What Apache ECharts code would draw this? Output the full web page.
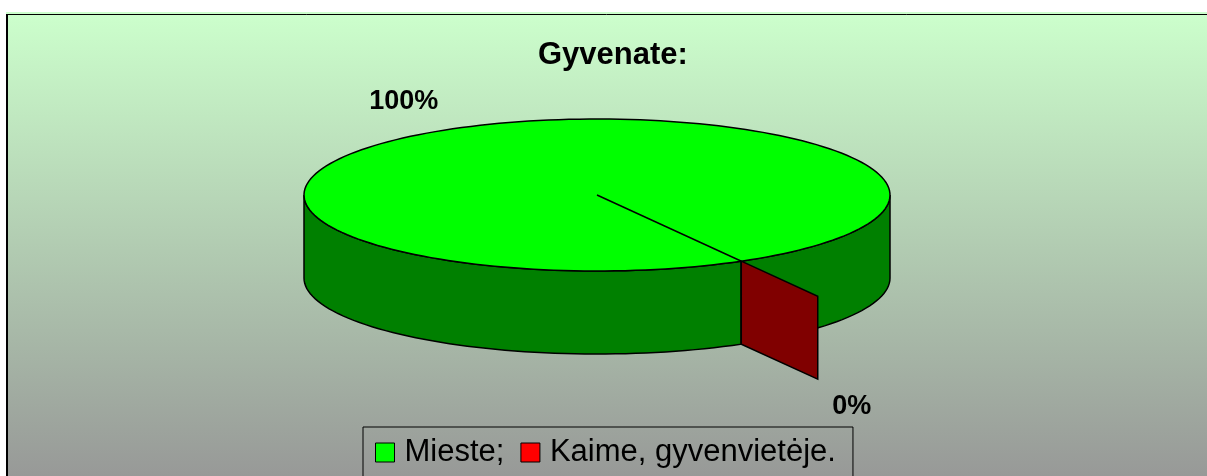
<!DOCTYPE html>
<html>
<head>
<meta charset="utf-8">
<script src="https://cdn.jsdelivr.net/npm/echarts@6/dist/echarts.min.js"></script>
<style>
  html, body { margin: 0; padding: 0; background: #fff; }
  #main { width: 1207px; height: 476px; }
</style>
</head>
<body>
<div id="main"></div>
<script>
// data
var categories = ['Mieste;', 'Kaime, gyvenvietėje.'];
var values = [100, 0];
var topColors = ['#00FF00', '#FF0000'];
var sideColors = ['#008000', '#800000'];
var explode = [0, 0.53];

// 3d pie layout (px)
var CX = 597, CY = 195, RX = 293, RY = 76, DEPTH = 83, START = 60.5;
var FONT = '"Liberation Sans", Arial, sans-serif';

var total = 0;
for (var i = 0; i < values.length; i++) total += values[i];

function rad(d) { return d * Math.PI / 180; }
function pt(a, t, ox, oy, dz) {
    return [CX + ox + t * RX * Math.cos(rad(a)), CY + oy + t * RY * Math.sin(rad(a)) + dz];
}
function arc(a0, a1, ox, oy, dz) {
    var pts = [], n = Math.max(2, Math.ceil(Math.abs(a1 - a0) / 2));
    for (var i = 0; i <= n; i++) pts.push(pt(a0 + (a1 - a0) * i / n, 1, ox, oy, dz));
    return pts;
}

function renderSlice(idx) {
    return function (params, api) {
        var before = 0;
        for (var j = 0; j < idx; j++) before += values[j];
        var a0 = START + before / total * 360;
        var a1 = a0 + values[idx] / total * 360;
        var mid = (a0 + a1) / 2;
        var e = explode[idx];
        var ox = e * RX * Math.cos(rad(mid)), oy = e * RY * Math.sin(rad(mid));
        var edge = { stroke: '#000', lineWidth: 1.5 };
        var children = [];

        // side wall, only the front half is seen
        for (var k = -1; k <= 2; k++) {
            var f0 = Math.max(a0, k * 360), f1 = Math.min(a1, k * 360 + 180);
            if (f1 > f0) {
                var top = arc(f0, f1, ox, oy, 0);
                var bot = arc(f0, f1, ox, oy, DEPTH).reverse();
                children.push({
                    type: 'polygon',
                    shape: { points: top.concat(bot) },
                    style: { fill: sideColors[idx], stroke: edge.stroke, lineWidth: edge.lineWidth }
                });
            }
        }

        if (a1 - a0 > 0.01) {
            // top face
            children.push({
                type: 'polygon',
                shape: { points: [[CX + ox, CY + oy]].concat(arc(a0, a1, ox, oy, 0)) },
                style: { fill: topColors[idx], stroke: edge.stroke, lineWidth: edge.lineWidth }
            });
        } else {
            // empty slice: only its cut face sticks out of the cylinder
            var t1 = Math.max(e, 1), t2 = 1 + e;
            var p1 = pt(a0, t1, 0, 0, 0), p2 = pt(a0, t2, 0, 0, 0);
            children.push({
                type: 'polygon',
                shape: { points: [p1, p2, [p2[0], p2[1] + DEPTH], [p1[0], p1[1] + DEPTH]] },
                style: { fill: sideColors[idx], stroke: edge.stroke, lineWidth: edge.lineWidth }
            });
        }

        // percent label
        var c = Math.cos(rad(mid)), s = Math.sin(rad(mid));
        children.push({
            type: 'text',
            x: CX + (e + 1.1) * RX * c,
            y: CY + (e + 1.21) * RY * s + (s > 0 ? DEPTH : 0),
            style: {
                text: Math.round(values[idx] / total * 100) + '%',
                fill: '#000',
                font: 'bold 27px ' + FONT,
                align: c < 0 ? 'right' : 'left',
                verticalAlign: s < 0 ? 'bottom' : 'top'
            }
        });
        return { type: 'group', children: children };
    };
}

var series = [];
for (var i = 0; i < categories.length; i++) {
    series.push({
        type: 'custom',
        name: categories[i],
        coordinateSystem: 'none',
        z: 2 + i,
        itemStyle: { color: topColors[i], borderColor: '#000', borderWidth: 1 },
        renderItem: renderSlice(i),
        data: [values[i]]
    });
}

var chart = echarts.init(document.getElementById('main'));
chart.setOption({
    animation: false,
    backgroundColor: '#fff',
    graphic: [
        {
            type: 'rect', z: -10,
            shape: { x: 6, y: 12, width: 1300, height: 478 },
            style: {
                fill: new echarts.graphic.LinearGradient(0, 0, 0, 1, [
                    { offset: 0, color: '#CCFFCC' },
                    { offset: 1, color: '#969696' }
                ])
            }
        },
        { type: 'line', z: -9, shape: { x1: 6, y1: 14.5, x2: 1207, y2: 14.5 }, style: { stroke: '#000', lineWidth: 1 } },
        { type: 'line', z: -9, shape: { x1: 7, y1: 14, x2: 7, y2: 476 }, style: { stroke: '#000', lineWidth: 2 } }
    ],
    title: {
        text: 'Gyvenate:',
        left: 533,
        top: 35,
        textStyle: { fontFamily: FONT, fontSize: 31, fontWeight: 'bold', color: '#000' }
    },
    legend: {
        data: categories,
        left: 363,
        top: 427,
        padding: [10, 17, 10, 12],
        borderColor: '#000',
        borderWidth: 1,
        icon: 'rect',
        itemWidth: 19,
        itemHeight: 19,
        itemGap: 16,
        itemStyle: { borderColor: '#000', borderWidth: 1 },
        textStyle: { fontFamily: FONT, fontSize: 31, color: '#000', padding: [0, 0, 0, 5] },
        selectedMode: false
    },
    series: series
});
</script>
</body>
</html>
